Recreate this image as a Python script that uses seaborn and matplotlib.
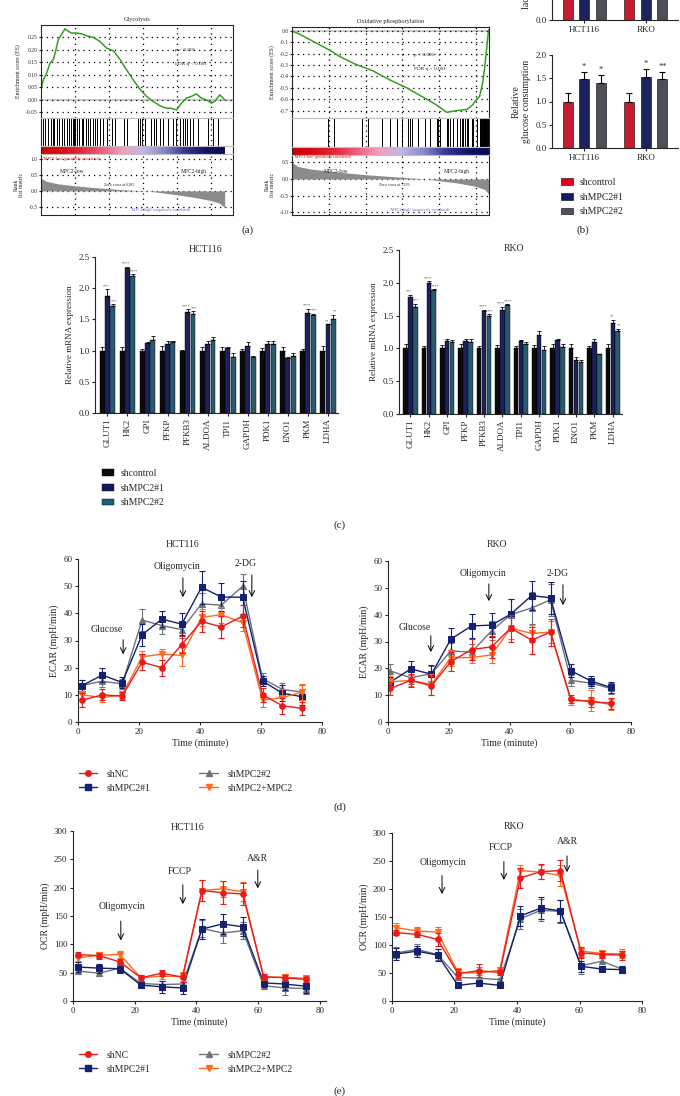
import numpy as np
import pandas as pd
import matplotlib
matplotlib.use('Agg')
import matplotlib.pyplot as plt
import seaborn as sns
from matplotlib.colors import LinearSegmentedColormap
from matplotlib.lines import Line2D
from matplotlib.patches import Patch
from matplotlib.ticker import FormatStrFormatter

# ---------------- data ----------------
# (a) GSEA, glycolysis
gly_es_rank = [0, 137, 333, 529, 725, 881, 1018, 1214, 1410, 1606, 1801, 2095, 2389, 2683, 3074, 3466,
               3858, 4250, 4641, 5033, 5425, 5817, 6208, 6600, 6992, 7383, 7677, 7971, 8265, 8558,
               8852, 9146, 9440, 9734, 10027, 10223, 10517, 10713, 10811]
gly_es = [0.043, 0.08, 0.107, 0.146, 0.16, 0.2, 0.24, 0.26, 0.283, 0.273, 0.266, 0.266, 0.263, 0.255,
          0.249, 0.233, 0.206, 0.196, 0.162, 0.12, 0.08, 0.043, 0.014, -0.006, -0.023, -0.033, -0.033,
          -0.04, -0.013, 0.007, 0.014, 0.024, 0.007, 0.0, -0.013, -0.006, 0.02, 0.007, 0.0]
gly_hits = [137, 235, 431, 568, 685, 764, 920, 1077, 1214, 1351, 1508, 1664, 1743, 1860, 1938, 2017,
            2095, 2213, 2389, 2487, 2643, 2780, 2878, 3074, 3192, 3309, 3466, 3662, 3896, 4151, 4347,
            4876, 5033, 5718, 5817, 5915, 6109, 6500, 6638, 6795, 6990, 7187, 7480, 7774, 7931, 8166,
            8362, 8460, 8597, 8753, 8950, 9244, 9829, 10130, 10420]
gly_rank_x = [0, 300, 1000, 2000, 3000, 4000, 5000, 6285, 7000, 8000, 9000, 10000, 10500, 10811]
gly_rank_y = [0.40, 0.30, 0.22, 0.16, 0.11, 0.07, 0.03, 0.0, -0.05, -0.12, -0.20, -0.30, -0.38, -0.52]

# (a) GSEA, oxidative phosphorylation
ox_es_rank = [0, 434, 1249, 2063, 2606, 3421, 4398, 5321, 6245, 7113, 7765, 8417, 8960, 9503, 9828,
              10046, 10208, 10371, 10480, 10589, 10697]
ox_es = [0.0, -0.03, -0.10, -0.17, -0.225, -0.29, -0.35, -0.43, -0.50, -0.58, -0.64, -0.715, -0.70,
         -0.69, -0.65, -0.60, -0.575, -0.46, -0.33, -0.16, 0.01]
ox_hits = [1955, 2281, 3801, 4127, 4887, 5321, 5702, 5973, 6299, 6407, 6516, 6842, 7222, 7493, 7874,
           7928, 8036, 8417, 8471, 8580, 8742, 8960, 9122, 9231, 9286, 9394, 9503, 9557, 9774, 9828,
           10046, 10220, 10250, 10280, 10310, 10340, 10370, 10400, 10430, 10460, 10490, 10520,
           10550, 10580, 10610, 10640, 10670, 10695]
ox_rank_x = [0, 300, 1000, 2000, 3000, 4000, 5000, 6000, 7293, 8000, 9000, 10000, 10500, 10697]
ox_rank_y = [0.50, 0.38, 0.30, 0.24, 0.18, 0.13, 0.09, 0.05, 0.0, -0.05, -0.12, -0.22, -0.32, -0.45]

# (b) lactate / glucose
cells = ['HCT116', 'RKO']
groups_b = ['shcontrol', 'shMPC2#1', 'shMPC2#2']
lactate = {'shcontrol': [1.0, 1.0], 'shMPC2#1': [1.55, 1.50], 'shMPC2#2': [1.45, 1.60]}
glucose = {'shcontrol': [1.0, 1.0], 'shMPC2#1': [1.49, 1.52], 'shMPC2#2': [1.39, 1.49]}
glucose_err = {'shcontrol': [0.19, 0.19], 'shMPC2#1': [0.15, 0.18], 'shMPC2#2': [0.18, 0.15]}
glucose_sig = {'shcontrol': ['', ''], 'shMPC2#1': ['*', '*'], 'shMPC2#2': ['*', '**']}

# (c) qPCR
genes = ['GLUT1', 'HK2', 'GPI', 'PFKP', 'PFKB3', 'ALDOA', 'TPI1', 'GAPDH', 'PDK1', 'ENO1', 'PKM', 'LDHA']
hct_ctrl = [1.0, 1.0, 1.0, 1.0, 1.0, 1.0, 1.0, 1.0, 1.0, 1.0, 1.0, 1.0]
hct_ctrl_err = [0.06, 0.06, 0.03, 0.07, 0.01, 0.06, 0.05, 0.03, 0.04, 0.05, 0.03, 0.07]
hct_sh1 = [1.87, 2.32, 1.12, 1.11, 1.62, 1.11, 1.04, 1.08, 1.11, 0.88, 1.60, 1.42]
hct_sh1_err = [0.11, 0.02, 0.01, 0.04, 0.04, 0.04, 0.02, 0.06, 0.05, 0.02, 0.07, 0.0]
hct_sh2 = [1.72, 2.19, 1.17, 1.14, 1.58, 1.17, 0.89, 0.90, 1.11, 0.92, 1.57, 1.50]
hct_sh2_err = [0.02, 0.03, 0.06, 0.01, 0.05, 0.04, 0.07, 0.02, 0.05, 0.04, 0.02, 0.07]
hct_sig1 = ['***', '****', '', '', '****', '', '', '', '', '', '****', '**']
hct_sig2 = ['***', '****', '', '', '***', '', '', '', '', '', '***', '**']

rko_ctrl = [1.0, 1.0, 1.0, 1.0, 1.0, 1.0, 1.0, 1.0, 1.0, 1.0, 1.0, 1.0]
rko_ctrl_err = [0.06, 0.03, 0.05, 0.06, 0.03, 0.05, 0.03, 0.05, 0.06, 0.07, 0.03, 0.06]
rko_sh1 = [1.78, 1.99, 1.11, 1.11, 1.57, 1.59, 1.12, 1.21, 1.13, 0.83, 1.10, 1.39]
rko_sh1_err = [0.04, 0.03, 0.03, 0.04, 0.02, 0.04, 0.01, 0.06, 0.02, 0.04, 0.04, 0.05]
rko_sh2 = [1.63, 1.89, 1.09, 1.10, 1.50, 1.66, 1.07, 0.98, 1.02, 0.80, 0.91, 1.27]
rko_sh2_err = [0.05, 0.01, 0.04, 0.04, 0.02, 0.01, 0.03, 0.05, 0.05, 0.03, 0.01, 0.03]
rko_sig1 = ['***', '****', '', '', '****', '****', '', '', '', '', '', '**']
rko_sig2 = ['***', '****', '', '', '***', '****', '', '', '', '', '', '**']

# (d) ECAR
groups_flux = ['shNC', 'shMPC2#1', 'shMPC2#2', 'shMPC2+MPC2']
ecar_hct_t = [1.3, 8, 14.5, 21, 27.5, 34, 40.5, 47, 54, 60.5, 67, 73.5]
ecar_hct = {
    'shMPC2#2': [13.5, 15, 14, 37.5, 35.5, 34, 43.5, 43, 50, 16, 12, 11],
    'shMPC2#1': [13.4, 17.3, 14.5, 32.1, 37.9, 36.0, 49.6, 46.0, 45.9, 15.1, 10.6, 9.3],
    'shMPC2+MPC2': [10, 9, 10, 24, 25, 24.5, 38.5, 39.5, 36.5, 8, 9, 11],
    'shNC': [8, 10, 9.5, 22, 20, 28.5, 37, 35, 39, 10, 6, 5],
}
ecar_hct_err = {
    'shMPC2#2': [2, 2, 2, 4, 3, 3, 4, 4, 4.5, 2, 2.5, 2.5],
    'shMPC2#1': [2, 2.5, 2, 4, 3, 4, 6, 5, 6, 2, 3, 3],
    'shMPC2+MPC2': [1.5, 1.5, 1.5, 2, 2, 4, 3, 3, 3, 2.5, 3, 3],
    'shNC': [2.5, 2, 1.5, 3, 3, 3, 4, 4, 4, 2.5, 3, 2.5],
}
ecar_rko_t = [0.8, 7.5, 14.3, 20.7, 27.5, 34.1, 40.4, 47.3, 53.5, 60.2, 66.8, 73.3]
ecar_rko = {
    'shMPC2#2': [19, 16.5, 18, 26.5, 26, 34, 40, 42.5, 45.5, 15.5, 14.5, 12.5],
    'shMPC2#1': [14.9, 19.8, 17.8, 30.9, 35.8, 36.1, 40.2, 47.1, 46.3, 19.1, 15.3, 12.9],
    'shMPC2+MPC2': [15, 15.5, 14, 24, 24, 25, 35, 33, 33.5, 8, 8, 6.5],
    'shNC': [12.5, 15.5, 13.5, 22.5, 27, 28, 35, 30.5, 33.5, 8.5, 7.5, 7],
}
ecar_rko_err = {
    'shMPC2#2': [2.5, 2.5, 3, 3, 3, 3.5, 6, 6, 6, 2, 2, 2],
    'shMPC2#1': [2, 3, 3.5, 4, 4.5, 4.5, 5.5, 5.5, 6, 2.5, 2, 2],
    'shMPC2+MPC2': [2, 2, 4, 3, 2, 3, 4, 3, 4, 1.5, 4, 2],
    'shNC': [2.5, 2.5, 3.5, 3.5, 4, 4, 5, 5, 5, 1.5, 2, 2],
}

# (e) OCR
ocr_hct_t = [1.6, 8.4, 15.2, 22, 28.8, 35.5, 41.8, 48.5, 55, 61.8, 68.6, 75.5]
ocr_hct = {
    'shMPC2#2': [53, 49, 58, 31, 29, 30, 128, 120, 124, 27, 23, 22],
    'shMPC2#1': [60, 58, 57, 28, 25, 23, 127, 136, 131, 32, 30, 26],
    'shMPC2+MPC2': [76, 81, 82, 41, 44, 43, 195, 198, 193, 42, 42, 40],
    'shNC': [82, 80, 69, 41, 49, 42, 195, 191, 189, 43, 41, 38],
}
ocr_hct_err = {
    'shMPC2#2': [6, 5, 8, 5, 6, 8, 15, 18, 15, 5, 12, 10],
    'shMPC2#1': [8, 8, 8, 5, 10, 10, 18, 17, 17, 8, 10, 12],
    'shMPC2+MPC2': [5, 5, 6, 5, 5, 8, 18, 14, 17, 5, 5, 5],
    'shNC': [4, 5, 6, 5, 5, 8, 18, 20, 20, 5, 5, 5],
}
ocr_rko_t = [1.4, 8, 14.6, 21.1, 27.7, 34.5, 41.1, 47.7, 53.9, 60.5, 67.2, 73.6]
ocr_rko = {
    'shMPC2#2': [86, 92, 83, 42, 41, 38, 147, 162, 160, 63, 71, 57],
    'shMPC2#1': [84, 89, 82, 28, 32, 28, 152, 166, 161, 62, 57, 56],
    'shMPC2+MPC2': [131, 125, 123, 51, 50, 55, 233, 230, 224, 89, 85, 84],
    'shNC': [122, 119, 110, 49, 54, 51, 220, 231, 233, 86, 83, 82],
}
ocr_rko_err = {
    'shMPC2#2': [10, 10, 10, 5, 5, 3, 18, 20, 20, 15, 5, 6],
    'shMPC2#1': [10, 10, 10, 5, 5, 3, 18, 20, 20, 10, 3, 6],
    'shMPC2+MPC2': [8, 8, 10, 8, 10, 5, 10, 12, 18, 8, 6, 8],
    'shNC': [4, 5, 12, 8, 12, 5, 18, 14, 18, 10, 6, 8],
}

# ---------------- style ----------------
sns.set_style('ticks')
plt.rcParams['font.family'] = ['Liberation Serif', 'DejaVu Serif']
plt.rcParams['axes.linewidth'] = 0.8
plt.rcParams['xtick.major.width'] = 0.8
plt.rcParams['ytick.major.width'] = 0.8
plt.rcParams['xtick.major.size'] = 2.5
plt.rcParams['ytick.major.size'] = 2.5

W, H = 680, 1096
fig = plt.figure(figsize=(W / 100, H / 100), dpi=100)


def add_ax(l, t, r, b):
    return fig.add_axes([l / W, 1 - b / H, (r - l) / W, (b - t) / H])


def ftext(x, y, s, **kw):
    fig.text(x / W, 1 - y / H, s, **kw)


# ---------------- (a) GSEA ----------------
gsea_cmap = LinearSegmentedColormap.from_list('gsea', ['#cc0000', '#dc0a14', '#e42a3c', '#ee6080',
                                                      '#f2a0c0', '#c0b8e4', '#8c88c8', '#3a3a96',
                                                      '#141468', '#0a0a50'])
grid_style = dict(linestyle=(0, (1, 3.2)), color='black', linewidth=0.9)


def gsea_panel(l, r, t, es_b, hit_b, bar_b, b, n_total, n_data, es_x, es_y, hits, rk_x, rk_y,
               es_lim, es_ticks, rk_lim, rk_ticks, title, zero_txt, pval_xy, low_xy, high_xy,
               zero_xy, pos_xy, neg_xy, es_fmt):
    xgrid = [2000, 4000, 6000, 8000, 10000]
    ax1 = add_ax(l, t, r, es_b)
    sns.lineplot(x=es_x, y=es_y, ax=ax1, color='#35a020', lw=1.1)
    ax1.axhline(0, color='0.8', lw=1.4, zorder=0)
    ax1.set_xlim(0, n_total)
    ax1.set_ylim(*es_lim)
    ax1.set_xticks(xgrid)
    ax1.set_yticks(es_ticks)
    ax1.yaxis.set_major_formatter(FormatStrFormatter(es_fmt))
    ax1.grid(True, **grid_style)
    ax1.tick_params(axis='x', length=0, labelbottom=False)
    ax1.tick_params(axis='y', labelsize=4, length=1.5, pad=1)
    ax1.set_ylabel('Enrichment score (ES)', fontsize=4.2, labelpad=3)
    ax1.set_title(title, fontsize=4.5, pad=3)
    ax1.spines['bottom'].set_color('0.75')
    ax1.text(pval_xy[0], pval_xy[1], 'p < 0.001', fontsize=3.8, transform=ax1.transAxes)
    ax1.text(pval_xy[0], pval_xy[1] - 0.15, 'FDR q < 0.001', fontsize=3.8, transform=ax1.transAxes)

    ax2 = add_ax(l, es_b, r, hit_b)
    ax2.vlines(hits, 0, 1, color='black', lw=0.7)
    ax2.set_xlim(0, n_total)
    ax2.set_ylim(0, 1)
    ax2.set_xticks(xgrid)
    ax2.grid(True, axis='x', **grid_style)
    ax2.tick_params(length=0, labelbottom=False, labelleft=False)
    ax2.set_yticks([])
    for s in ['top', 'bottom']:
        ax2.spines[s].set_color('0.75')

    ax3 = add_ax(l, hit_b, r, bar_b)
    ax3.imshow(np.linspace(0, 1, 256)[None, :], aspect='auto', cmap=gsea_cmap,
               extent=[0, n_data, 0, 1])
    ax3.set_xlim(0, n_total)
    ax3.set_ylim(0, 1)
    ax3.set_xticks([])
    ax3.set_yticks([])
    for s in ['top', 'bottom']:
        ax3.spines[s].set_color('0.75')

    ax4 = add_ax(l, bar_b, r, b)
    ax4.fill_between(rk_x, rk_y, 0, color='0.55', lw=0)
    ax4.set_xlim(0, n_total)
    ax4.set_ylim(*rk_lim)
    ax4.set_xticks(xgrid)
    ax4.set_yticks(rk_ticks)
    ax4.yaxis.set_major_formatter(FormatStrFormatter('%.1f'))
    ax4.grid(True, **grid_style)
    ax4.tick_params(axis='x', length=0, labelbottom=False)
    ax4.tick_params(axis='y', labelsize=4, length=1.5, pad=1)
    ax4.set_ylabel('Rank\nlist metric', fontsize=4.2, labelpad=3)
    ax4.spines['top'].set_color('0.75')
    ax4.text(low_xy[0], low_xy[1], 'MPC2-low', fontsize=4, transform=ax4.transAxes, va='center')
    ax4.text(high_xy[0], high_xy[1], 'MPC2-high', fontsize=4, transform=ax4.transAxes, va='center')
    ax4.text(zero_xy[0], zero_xy[1], zero_txt, fontsize=3, transform=ax4.transAxes, va='center')
    ax4.text(pos_xy[0], pos_xy[1], "'MPC2-low' (positively correlated)", fontsize=3,
             color='#e00000', transform=ax4.transAxes, va='center')
    ax4.text(neg_xy[0], neg_xy[1], "'MPC2-high' (negatively correlated)", fontsize=3,
             color='#6464c8', transform=ax4.transAxes, va='center')


gsea_panel(41, 233, 25, 118, 146, 154, 215, 11300, 10811, gly_es_rank, gly_es, gly_hits,
           gly_rank_x, gly_rank_y, (-0.072, 0.298),
           [-0.05, 0.0, 0.05, 0.10, 0.15, 0.20, 0.25], (-0.75, 1.15), [-0.5, 0.0, 0.5, 1.0],
           'Glycolysis', 'Zero cross at 6285', (0.7, 0.72), (0.1, 0.71), (0.73, 0.71),
           (0.33, 0.5), (0.01, 0.92), (0.47, 0.08), '%.2f')

gsea_panel(292, 489, 27, 118, 147, 155, 215, 10720, 10697, ox_es_rank, ox_es, ox_hits,
           ox_rank_x, ox_rank_y, (-0.765, 0.035),
           [-0.7, -0.6, -0.5, -0.4, -0.3, -0.2, -0.1, 0.0], (-1.08, 0.72),
           [-1.0, -0.5, 0.0, 0.5], 'Oxidative phosphorylation', 'Zero cross at 7293',
           (0.62, 0.68), (0.16, 0.73), (0.77, 0.73), (0.44, 0.5), (0.01, 0.97),
           (0.5, 0.08), '%.1f')

ftext(248, 230, '(a)', fontsize=8, ha='center', va='center')

# ---------------- (b) ----------------
colors_b = ['#e0001b', '#101a68', '#4b5159']


def b_bars(ax, vals, errs=None, sigs=None):
    df = pd.DataFrame([(c, g, vals[g][i]) for g in groups_b for i, c in enumerate(cells)],
                      columns=['cell', 'group', 'value'])
    sns.barplot(data=df, x='cell', y='value', hue='group', order=cells, hue_order=groups_b,
                palette=colors_b, errorbar=None, width=0.8, gap=0.4, edgecolor='black',
                linewidth=0.4, legend=False, ax=ax)
    if errs is not None:
        for gi, g in enumerate(groups_b):
            cont = ax.containers[gi]
            xs = [p.get_x() + p.get_width() / 2 for p in cont]
            ax.errorbar(xs, vals[g], yerr=[[0] * len(xs), errs[g]], fmt='none', ecolor='black',
                        elinewidth=0.8, capsize=2.5, capthick=0.8)
            for x, v, e, s in zip(xs, vals[g], errs[g], sigs[g]):
                if s:
                    ax.text(x, v + e + 0.02, s, ha='center', va='bottom', fontsize=6)
    ax.set_xlim(-0.52, 1.52)
    ax.set_ylim(0, 2.0)
    ax.set_xlabel('')
    ax.set_yticks([0.0, 0.5, 1.0, 1.5, 2.0])
    ax.yaxis.set_major_formatter(FormatStrFormatter('%.1f'))
    sns.despine(ax=ax)
    ax.tick_params(labelsize=6.5, pad=1.5)


ax_lac = add_ax(552, -73, 678, 20)
b_bars(ax_lac, lactate)
ax_lac.set_ylabel('Relative\nlactate production', fontsize=7, labelpad=3)

ax_glu = add_ax(552, 55, 678, 148)
b_bars(ax_glu, glucose, glucose_err, glucose_sig)
ax_glu.set_ylabel('Relative\nglucose consumption', fontsize=7, labelpad=3)

fig.legend([Patch(facecolor=c, edgecolor='black', lw=0.4) for c in colors_b], groups_b,
           loc='upper left', bbox_to_anchor=(552 / W, 1 - 169 / H), frameon=False, fontsize=7,
           handlelength=1.3, handleheight=0.7, labelspacing=0.6, handletextpad=0.6)
ftext(583, 230, '(b)', fontsize=8, ha='center', va='center')

# ---------------- (c) ----------------
colors_c = ['#0b0b0b', '#121a63', '#1d5f79']
groups_c = ['shcontrol', 'shMPC2#1', 'shMPC2#2']


def c_bars(ax, vals, errs, sigs, title, title_xy):
    df = pd.DataFrame([(gene, g, vals[gi][i]) for gi, g in enumerate(groups_c)
                       for i, gene in enumerate(genes)], columns=['gene', 'group', 'value'])
    sns.barplot(data=df, x='gene', y='value', hue='group', order=genes, hue_order=groups_c,
                palette=colors_c, errorbar=None, width=0.8, gap=0.08, edgecolor='black',
                linewidth=0.3, legend=False, ax=ax)
    for gi in range(3):
        cont = ax.containers[gi]
        xs = [p.get_x() + p.get_width() / 2 for p in cont]
        ax.errorbar(xs, vals[gi], yerr=[[0] * len(xs), errs[gi]], fmt='none', ecolor='black',
                    elinewidth=0.6, capsize=1.4, capthick=0.6)
        if gi > 0:
            shift = -0.06 if gi == 1 else 0.06
            for x, v, e, s in zip(xs, vals[gi], errs[gi], sigs[gi - 1]):
                if s:
                    ax.text(x + shift, v + e + 0.02, s, ha='center', va='bottom', fontsize=3.0,
                            color='0.3')
    ax.set_ylim(0, 2.5)
    ax.set_xlim(-0.62, 11.5)
    ax.set_yticks([0.0, 0.5, 1.0, 1.5, 2.0, 2.5])
    ax.yaxis.set_major_formatter(FormatStrFormatter('%.1f'))
    ax.set_xlabel('')
    ax.set_ylabel('Relative mRNA expression', fontsize=6.5, labelpad=3)
    ax.tick_params(labelsize=6.5, pad=1.5)
    ax.tick_params(axis='x', rotation=90)
    sns.despine(ax=ax)
    ax.text(title_xy[0], title_xy[1], title, fontsize=7, ha='center', va='center')


ax_ch = add_ax(95, 257, 338, 413)
c_bars(ax_ch, [hct_ctrl, hct_sh1, hct_sh2], [hct_ctrl_err, hct_sh1_err, hct_sh2_err],
       [hct_sig1, hct_sig2], 'HCT116', (4.9, 2.62))
ax_cr = add_ax(399, 250, 622, 414)
c_bars(ax_cr, [rko_ctrl, rko_sh1, rko_sh2], [rko_ctrl_err, rko_sh1_err, rko_sh2_err],
       [rko_sig1, rko_sig2], 'RKO', (5.6, 2.52))

fig.legend([Patch(facecolor=c, edgecolor='black', lw=0.3) for c in colors_c], groups_c,
           loc='upper left', bbox_to_anchor=(93 / W, 1 - 460 / H), frameon=False, fontsize=7,
           handlelength=1.3, handleheight=0.7, labelspacing=0.6, handletextpad=0.6)
ftext(340, 525, '(c)', fontsize=8, ha='center', va='center')

# ---------------- (d)/(e) ----------------
flux_colors = {'shNC': '#ea1a1a', 'shMPC2#1': '#142070', 'shMPC2#2': '#6c737c',
               'shMPC2+MPC2': '#ff6a1c'}
flux_markers = {'shNC': 'o', 'shMPC2#1': 's', 'shMPC2#2': '^', 'shMPC2+MPC2': 'v'}
draw_order = ['shMPC2#2', 'shMPC2#1', 'shMPC2+MPC2', 'shNC']


def flux_panel(ax, t, vals, errs, ylim, yticks, ylabel, xlim, title, title_xy, notes):
    for g in draw_order:
        c = flux_colors[g]
        ax.errorbar(t, vals[g], yerr=errs[g], fmt='none', ecolor=c, elinewidth=0.8, capsize=2,
                    capthick=0.8)
        sns.lineplot(x=t, y=vals[g], ax=ax, color=c, lw=1.0, marker=flux_markers[g],
                     markersize=4, markeredgecolor=c, legend=False)
    ax.set_xlim(*xlim)
    ax.set_ylim(*ylim)
    ax.set_xticks([0, 20, 40, 60, 80])
    ax.set_yticks(yticks)
    ax.set_xlabel('Time (minute)', fontsize=7, labelpad=2)
    ax.set_ylabel(ylabel, fontsize=7, labelpad=3)
    ax.tick_params(labelsize=6.5, pad=1.5)
    sns.despine(ax=ax)
    ax.text(title_xy[0], title_xy[1], title, fontsize=7, ha='center', va='center', clip_on=False)
    for label, tx, ty, ax_x, y0, y1 in notes:
        ax.text(tx, ty, label, fontsize=7, ha='center', va='center', clip_on=False)
        ax.annotate('', xy=(ax_x, y1), xytext=(ax_x, y0),
                    arrowprops=dict(arrowstyle='->', color='black', lw=0.7), annotation_clip=False)


ax_eh = add_ax(78, 559, 322, 722)
flux_panel(ax_eh, ecar_hct_t, ecar_hct, ecar_hct_err, (0, 60), [0, 10, 20, 30, 40, 50, 60],
           'ECAR (mpH/min)', (0, 80), 'HCT116', (34.4, 65.5),
           [('Glucose', 9.5, 34.2, 14.8, 31.3, 23.9),
            ('Oligomycin', 32.5, 57.1, 34.4, 54.1, 44.9),
            ('2-DG', 55.1, 58.2, 57.0, 55.2, 44.9)])
ax_er = add_ax(388, 561, 631, 722)
flux_panel(ax_er, ecar_rko_t, ecar_rko, ecar_rko_err, (0, 60), [0, 10, 20, 30, 40, 50, 60],
           'ECAR (mpH/min)', (0, 80), 'RKO', (35.9, 66.3),
           [('Glucose', 8.9, 35.4, 14.1, 33.2, 25.0),
            ('Oligomycin', 31.3, 55.5, 33.2, 52.5, 44.0),
            ('2-DG', 55.9, 55.2, 57.6, 52.2, 42.5)])

ax_oh = add_ax(73, 831, 326, 1001)
flux_panel(ax_oh, ocr_hct_t, ocr_hct, ocr_hct_err, (0, 300), [0, 50, 100, 150, 200, 250, 300],
           'OCR (mpH/min)', (0, 82), 'HCT116', (37.2, 307),
           [('Oligomycin', 15.9, 166, 15.5, 146, 102),
            ('FCCP', 34.7, 229, 35.6, 210, 166),
            ('A&R', 59.9, 251, 59.9, 236, 194)])
ax_or = add_ax(392, 833, 642, 1001)
flux_panel(ax_or, ocr_rko_t, ocr_rko, ocr_rko_err, (0, 300), [0, 50, 100, 150, 200, 250, 300],
           'OCR (mpH/min)', (0, 80), 'RKO', (39.0, 311),
           [('Oligomycin', 16.3, 248, 16.0, 229, 186),
            ('FCCP', 34.9, 275, 35.8, 254, 211),
            ('A&R', 56.0, 284, 56.0, 264, 225)])

flux_handles = [Line2D([], [], color=flux_colors[g], marker=flux_markers[g], markersize=4, lw=1.0)
                for g in groups_flux]
for y in (761, 1042):
    fig.legend(flux_handles, groups_flux, ncol=2, loc='upper left',
               bbox_to_anchor=(70 / W, 1 - y / H), frameon=False, fontsize=7, handlelength=1.9,
               columnspacing=5.0, labelspacing=0.5, handletextpad=1.0)

ftext(340, 807, '(d)', fontsize=8, ha='center', va='center')
ftext(340, 1091, '(e)', fontsize=8, ha='center', va='center')

fig.savefig('out.png', dpi=100)
